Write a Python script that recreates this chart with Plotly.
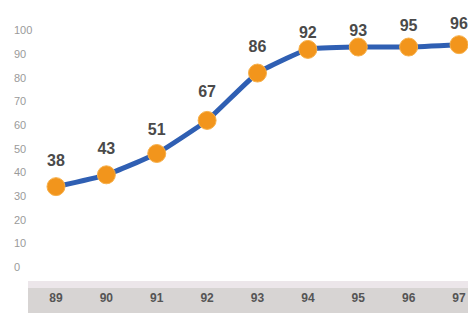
import plotly.graph_objects as go

years = ["89", "90", "91", "92", "93", "94", "95", "96", "97"]
values = [38, 43, 51, 67, 86, 92, 93, 95, 96]          # printed labels
marker_pos = [34, 39, 48, 62, 82, 92, 93, 93, 94]      # where the dots sit on the 0-100 scale
y_ticks = [0, 10, 20, 30, 40, 50, 60, 70, 80, 90, 100]

fig = go.Figure()
fig.add_trace(go.Scatter(
    x=years, y=marker_pos, mode="lines+markers",
    line=dict(color="#2f5fb3", width=5, shape="spline", smoothing=0.4),
    marker=dict(color="#f2951c", size=18, line=dict(color="#f7b04a", width=1)),
    hoverinfo="skip", showlegend=False, cliponaxis=False,
))
fig.add_trace(go.Scatter(
    x=years, y=values, mode="markers+text", text=[str(v) for v in values],
    textposition="top center",
    marker=dict(size=10, opacity=0),
    textfont=dict(family="Liberation Sans", size=16, color="#4a4a4a", weight="bold"),
    hoverinfo="skip", showlegend=False, cliponaxis=False,
))

# gray band behind the year labels
fig.add_shape(type="rect", xref="paper", yref="paper",
              x0=(20 - 3) / 473, x1=1.02, y0=-35 / 278, y1=-2 / 278,
              fillcolor="#d7d4d3", line=dict(width=0), layer="below")
fig.add_shape(type="rect", xref="paper", yref="paper",
              x0=(20 - 3) / 473, x1=1.02, y0=-2 / 278, y1=5 / 278,
              fillcolor="#ece6ea", line=dict(width=0), layer="below")

fig.update_layout(
    width=476, height=313,
    margin=dict(l=3, r=0, t=0, b=35, autoexpand=False),
    plot_bgcolor="white", paper_bgcolor="white",
    xaxis=dict(type="category", range=[-0.893, 8.496], showgrid=False, zeroline=False,
               showline=False, ticks="outside", ticklen=1, tickcolor="rgba(0,0,0,0)",
               automargin=False,
               tickfont=dict(family="Liberation Sans Narrow, Liberation Sans", size=12,
                             color="#555555", weight="bold")),
    yaxis=dict(range=[-8.0, 109.5], tickvals=y_ticks, ticktext=[str(t) for t in y_ticks],
               ticklabelposition="inside", showgrid=False, zeroline=False, showline=False,
               automargin=False,
               tickfont=dict(family="Liberation Sans", size=11, color="#9a9a9a")),
)

fig.write_html("out.html")
